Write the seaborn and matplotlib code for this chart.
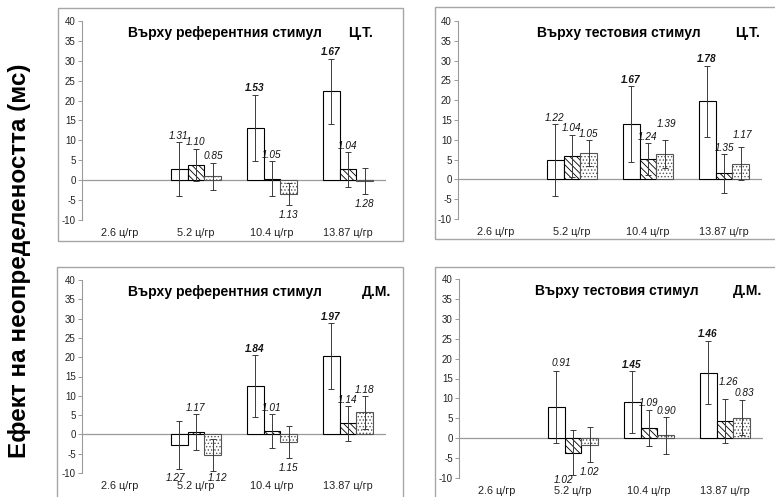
import numpy as np
import pandas as pd
import matplotlib
matplotlib.use("Agg")
import matplotlib.pyplot as plt
import seaborn as sns
from matplotlib.patches import Rectangle
from matplotlib.container import BarContainer
from matplotlib.transforms import offset_copy

# ---------------- data ----------------
categories = ["2.6 ц/гр", "5.2 ц/гр", "10.4 ц/гр", "13.87 ц/гр"]
data_categories = ["5.2 ц/гр", "10.4 ц/гр", "13.87 ц/гр"]
series = ["серия 1", "серия 2", "серия 3"]
yticks = [-10, -5, 0, 5, 10, 15, 20, 25, 30, 35, 40]
ylabel = "Ефект на неопределеността (мс)"

# Panel 1: Върху референтния стимул, Ц.Т.
p1_title, p1_subject = "Върху референтния стимул", "Ц.Т."
p1_mean_s1 = [2.8, 13.2, 22.3]
p1_mean_s2 = [3.9, 0.4, 2.7]
p1_mean_s3 = [1.0, -3.4, -0.2]
p1_err_s1 = [6.7, 8.3, 8.2]
p1_err_s2 = [4.0, 4.3, 4.3]
p1_err_s3 = [3.4, 2.8, 3.2]
p1_lab_s1 = ["1.31", "1.53", "1.67"]
p1_lab_s2 = ["1.10", "1.05", "1.04"]
p1_lab_s3 = ["0.85", "1.13", "1.28"]
p1_sig_s1 = [False, True, True]

# Panel 2: Върху тестовия стимул, Ц.Т.
p2_title, p2_subject = "Върху тестовия стимул", "Ц.Т."
p2_mean_s1 = [4.9, 14.0, 19.7]
p2_mean_s2 = [5.9, 5.1, 1.5]
p2_mean_s3 = [6.7, 6.4, 4.0]
p2_err_s1 = [9.0, 9.5, 9.0]
p2_err_s2 = [5.4, 4.1, 4.9]
p2_err_s3 = [3.2, 3.5, 4.1]
p2_lab_s1 = ["1.22", "1.67", "1.78"]
p2_lab_s2 = ["1.04", "1.24", "1.35"]
p2_lab_s3 = ["1.05", "1.39", "1.17"]
p2_sig_s1 = [False, True, True]

# Panel 3: Върху референтния стимул, Д.М.
p3_title, p3_subject = "Върху референтния стимул", "Д.М."
p3_mean_s1 = [-2.7, 12.5, 20.3]
p3_mean_s2 = [0.6, 0.8, 2.9]
p3_mean_s3 = [-5.3, -1.9, 5.7]
p3_err_s1 = [6.2, 8.0, 8.5]
p3_err_s2 = [4.6, 4.4, 4.5]
p3_err_s3 = [4.2, 4.2, 4.2]
p3_lab_s1 = ["1.27", "1.84", "1.97"]
p3_lab_s2 = ["1.17", "1.01", "1.14"]
p3_lab_s3 = ["1.12", "1.15", "1.18"]
p3_sig_s1 = [False, True, True]

# Panel 4: Върху тестовия стимул, Д.М.
p4_title, p4_subject = "Върху тестовия стимул", "Д.М."
p4_mean_s1 = [7.8, 9.1, 16.5]
p4_mean_s2 = [-3.6, 2.6, 4.3]
p4_mean_s3 = [-1.7, 0.7, 5.2]
p4_err_s1 = [9.0, 7.8, 8.0]
p4_err_s2 = [5.7, 4.6, 5.5]
p4_err_s3 = [4.4, 4.6, 4.5]
p4_lab_s1 = ["0.91", "1.45", "1.46"]
p4_lab_s2 = ["1.02", "1.09", "1.26"]
p4_lab_s3 = ["1.02", "0.90", "0.83"]
p4_sig_s1 = [False, True, True]


def build(means, errs, labs, sig):
    rows = []
    for si, s in enumerate(series):
        for ci, c in enumerate(data_categories):
            rows.append(dict(cat=c, ser=s, val=means[si][ci], err=errs[si][ci],
                             lab=labs[si][ci], bold=(sig[ci] if si == 0 else False)))
    return pd.DataFrame(rows)


panels = [
    (p1_title, p1_subject, build([p1_mean_s1, p1_mean_s2, p1_mean_s3],
                                 [p1_err_s1, p1_err_s2, p1_err_s3],
                                 [p1_lab_s1, p1_lab_s2, p1_lab_s3], p1_sig_s1)),
    (p2_title, p2_subject, build([p2_mean_s1, p2_mean_s2, p2_mean_s3],
                                 [p2_err_s1, p2_err_s2, p2_err_s3],
                                 [p2_lab_s1, p2_lab_s2, p2_lab_s3], p2_sig_s1)),
    (p3_title, p3_subject, build([p3_mean_s1, p3_mean_s2, p3_mean_s3],
                                 [p3_err_s1, p3_err_s2, p3_err_s3],
                                 [p3_lab_s1, p3_lab_s2, p3_lab_s3], p3_sig_s1)),
    (p4_title, p4_subject, build([p4_mean_s1, p4_mean_s2, p4_mean_s3],
                                 [p4_err_s1, p4_err_s2, p4_err_s3],
                                 [p4_lab_s1, p4_lab_s2, p4_lab_s3], p4_sig_s1)),
]

# ---------------- layout / style ----------------
sns.set_theme(style="white")
plt.rcParams["font.family"] = ["Liberation Sans", "DejaVu Sans"]
plt.rcParams["hatch.linewidth"] = 0.6

W, H = 775, 497
fig = plt.figure(figsize=(W / 100, H / 100), dpi=100)
fig.patch.set_facecolor("white")


def fx(px):
    return px / W


def fy(py):
    return 1 - py / H


# axes rectangles in pixels: left, right, top(40), bottom(-10)
axes_px = [(82, 386, 21, 220), (458, 762, 21, 219), (82, 386, 280, 473), (459, 763, 279, 478)]
boxes_px = [(58, 403, 8, 241), (435, 780, 7, 239), (57, 403, 267, 505), (435, 780, 267, 505)]
title_pos = [(0.151, 0.875), (0.26, 0.911), (0.151, 0.92), (0.25, 0.90)]
hatches = ["", "\\\\\\\\\\", "....."]
box_color = "#a6a6a6"
# label nudges (panel, series index, category index) -> (dx in px, extra dy in data units)
label_nudge = {(1, 2, 1): (2, 2.4), (1, 2, 2): (2, 1.6), (1, 1, 2): (1, 0.0),
               (3, 1, 2): (4, 2.6), (3, 2, 2): (2, 0.0), (3, 1, 0): (-9, 1.2),
               (3, 0, 0): (5, 0.4), (2, 0, 0): (-3, 0.0), (2, 2, 0): (5, 0.6)}

for (l, r, t, b) in boxes_px:
    fig.patches.append(Rectangle((fx(l), fy(b)), fx(r) - fx(l), fy(t) - fy(b),
                                 transform=fig.transFigure, fill=False,
                                 edgecolor=box_color, linewidth=1.0, zorder=0))

for k, (title, subj, df) in enumerate(panels):
    l, r, t, b = axes_px[k]
    ax = fig.add_axes([fx(l), fy(b), fx(r) - fx(l), fy(t) - fy(b)])
    ax.set_facecolor("none")
    sns.barplot(data=df, x="cat", y="val", hue="ser", order=categories,
                hue_order=series, palette=["white"] * 3, saturation=1,
                width=0.67, errorbar=None, edgecolor="black", linewidth=0.8,
                legend=False, ax=ax, zorder=2)
    lookup = {(row.cat, row.ser): row for row in df.itertuples()}
    bar_conts = [c for c in ax.containers if isinstance(c, BarContainer)]
    for si, cont in enumerate(bar_conts):
        for bar in list(cont):
            if bar is None:
                continue
            bar.set_hatch(hatches[si])
            if si == 2:
                if hasattr(bar, "set_hatchcolor"):
                    bar.set_hatchcolor("#303030")
                else:
                    bar.set_edgecolor("#555555")
            cx = bar.get_x() + bar.get_width() / 2
            ci = int(round(cx))
            row = lookup[(categories[ci], series[si])]
            ax.errorbar(cx, row.val, yerr=row.err, fmt="none", ecolor="#3a3a3a",
                        elinewidth=0.7, capsize=2, capthick=0.7, zorder=3)
            if row.val < 0:
                ty = row.val - row.err - 2.5
            else:
                ty = row.val + row.err + 1.6
            dx, dy = label_nudge.get((k, si, ci - 1), (0, 0.0))
            tr = offset_copy(ax.transData, fig=fig, x=dx, y=0, units="dots")
            ax.text(cx, ty + dy, row.lab, ha="center", va="center", fontsize=7.2,
                    fontstyle="italic", fontweight="bold" if row.bold else "normal",
                    color="#111111", zorder=4, transform=tr)
    ax.axhline(0, color="#9a9a9a", linewidth=0.9, zorder=1)
    ax.set_xlim(-0.5, 3.5)
    ax.set_ylim(-10, 40)
    ax.set_yticks(yticks)
    ax.set_yticklabels([str(v) for v in yticks])
    ax.set_xlabel("")
    ax.set_ylabel("")
    for s in ["top", "right", "bottom"]:
        ax.spines[s].set_visible(False)
    ax.spines["left"].set_color("#9a9a9a")
    ax.spines["left"].set_linewidth(0.8)
    ax.tick_params(axis="y", which="both", left=True, length=3, width=0.7,
                   color="#9a9a9a", labelsize=7, labelcolor="#222222", pad=1.5)
    ax.tick_params(axis="x", length=0, labelsize=7.8, labelcolor="#222222", pad=6)
    tx, sx = title_pos[k]
    ax.text(tx, 0.94, title, transform=ax.transAxes, ha="left", va="center",
            fontsize=10, fontweight="bold", color="black")
    ax.text(sx, 0.94, subj, transform=ax.transAxes, ha="left", va="center",
            fontsize=10, fontweight="bold", color="black")

fig.text(0.025, 0.476, ylabel, rotation=90, ha="center", va="center",
         fontsize=17.5, fontweight="bold", color="black")

fig.savefig("out.png", dpi=100, facecolor="white")
